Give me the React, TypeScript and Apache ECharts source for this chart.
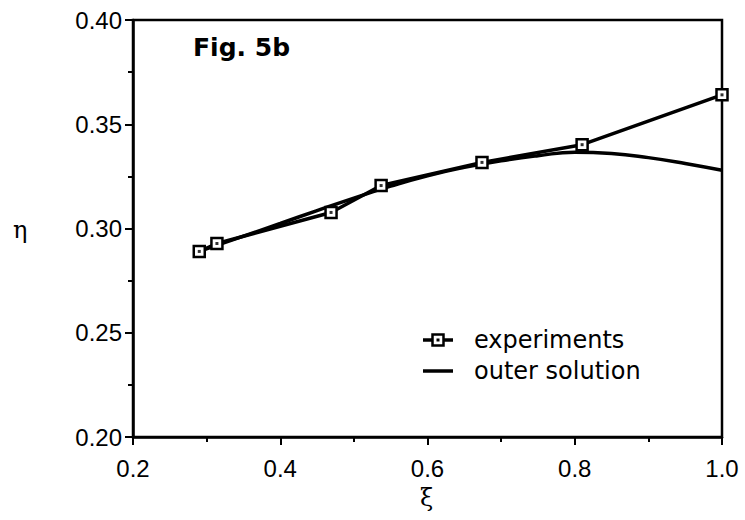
import React, { useEffect, useRef } from "react";
import * as echarts from "echarts";

// Measured points (ξ, η)
const expXi = [0.29, 0.314, 0.469, 0.537, 0.674, 0.81, 1.0];
const expEta = [0.289, 0.2928, 0.3077, 0.3206, 0.3317, 0.3402, 0.3641];

// Outer solution curve (ξ, η)
const solXi = [0.29, 0.35, 0.4, 0.45, 0.5, 0.55, 0.6, 0.65, 0.7, 0.75, 0.8, 0.85, 0.9, 0.95, 1.0];
const solEta = [0.289, 0.2963, 0.3024, 0.3086, 0.3146, 0.3203, 0.3253, 0.3293, 0.3325, 0.3349, 0.3366, 0.336, 0.334, 0.3312, 0.3279];

const xTicks = { min: 0.2, max: 1.0, interval: 0.2 };
const yTicks = { min: 0.2, max: 0.4, interval: 0.05 };

const legendNames = ["experiments", "outer solution"];

const TICK_FONT = "'Liberation Sans', Arial, sans-serif";
const TEXT_FONT = "'DejaVu Sans', sans-serif";

export default function App() {
  const ref = useRef<HTMLDivElement>(null);

  useEffect(() => {
    if (!ref.current) return;
    const chart = echarts.init(ref.current, null, { renderer: "svg" });
    const expData = expXi.map((x, i) => [x, expEta[i]]);
    const solData = solXi.map((x, i) => [x, solEta[i]]);

    // Hand-drawn legend: line + square marker, then plain line
    const legendX = 423;
    const legendW = 30;
    const legendY = [340, 371];
    const legend = [
      {
        type: "line",
        shape: { x1: legendX, y1: legendY[0], x2: legendX + legendW, y2: legendY[0] },
        style: { stroke: "#000", lineWidth: 3.5 },
        z: 10,
      },
      {
        type: "rect",
        shape: { x: legendX + legendW / 2 - 5.5, y: legendY[0] - 5.5, width: 11, height: 11 },
        style: { fill: "#fff", stroke: "#000", lineWidth: 2.5 },
        z: 11,
      },
      {
        type: "rect",
        shape: { x: legendX + legendW / 2 - 1.5, y: legendY[0] - 1.5, width: 3, height: 3 },
        style: { fill: "#000" },
        z: 12,
      },
      {
        type: "line",
        shape: { x1: legendX, y1: legendY[1], x2: legendX + legendW, y2: legendY[1] },
        style: { stroke: "#000", lineWidth: 3.5 },
        z: 10,
      },
      ...legendNames.map((name, i) => ({
        type: "text",
        x: 474,
        y: legendY[i],
        style: {
          text: name,
          fill: "#000",
          font: `24px ${TEXT_FONT}`,
          verticalAlign: "middle",
        },
        z: 10,
      })),
    ];

    chart.setOption({
      animation: false,
      backgroundColor: "#fff",
      grid: {
        left: 133,
        right: 23,
        top: 20,
        bottom: 83,
        show: true,
        borderColor: "#000",
        borderWidth: 2.5,
        backgroundColor: "transparent",
      },
      xAxis: {
        type: "value",
        min: xTicks.min,
        max: xTicks.max,
        interval: xTicks.interval,
        axisLine: { show: true, onZero: false, lineStyle: { color: "#000", width: 2.5 } },
        axisTick: { show: true, inside: false, length: 8, lineStyle: { color: "#000", width: 2 } },
        minorTick: { show: true, splitNumber: 2, length: 5, lineStyle: { color: "#000", width: 2 } },
        splitLine: { show: false },
        axisLabel: {
          color: "#000",
          fontFamily: TICK_FONT,
          fontSize: 24,
          margin: 19,
          formatter: (v: number) => v.toFixed(1),
        },
      },
      yAxis: {
        type: "value",
        min: yTicks.min,
        max: yTicks.max,
        interval: yTicks.interval,
        axisLine: { show: true, onZero: false, lineStyle: { color: "#000", width: 2.5 } },
        axisTick: { show: true, inside: false, length: 8, lineStyle: { color: "#000", width: 2 } },
        minorTick: { show: true, splitNumber: 2, length: 5, lineStyle: { color: "#000", width: 2 } },
        splitLine: { show: false },
        axisLabel: {
          color: "#000",
          fontFamily: TICK_FONT,
          fontSize: 24,
          margin: 11,
          formatter: (v: number) => v.toFixed(2),
        },
      },
      graphic: [
        {
          type: "text",
          left: 193,
          top: 35,
          style: { text: "Fig. 5b", fill: "#000", font: `bold 25px ${TEXT_FONT}` },
        },
        {
          type: "text",
          left: 13,
          top: 218,
          style: { text: "η", fill: "#000", font: "24px 'DejaVu Serif', serif" },
        },
        {
          type: "text",
          left: 420,
          top: 486,
          style: { text: "ξ", fill: "#000", font: "24px 'DejaVu Serif', serif" },
        },
        ...legend,
      ],
      series: [
        {
          name: "outer solution",
          type: "line",
          data: solData,
          smooth: true,
          symbol: "none",
          lineStyle: { color: "#000", width: 3.5 },
          z: 2,
        },
        {
          name: "experiments",
          type: "line",
          data: expData,
          symbol: "rect",
          symbolSize: 11,
          lineStyle: { color: "#000", width: 3.5 },
          itemStyle: { color: "#fff", borderColor: "#000", borderWidth: 2.5 },
          z: 3,
        },
        {
          name: "experiments centre",
          type: "scatter",
          data: expData,
          symbol: "rect",
          symbolSize: 3,
          itemStyle: { color: "#000" },
          z: 4,
        },
      ],
    });

    return () => chart.dispose();
  }, []);

  return (
    <div
      ref={ref}
      style={{ position: "absolute", left: 0, top: 0, width: 745, height: 520 }}
    />
  );
}
